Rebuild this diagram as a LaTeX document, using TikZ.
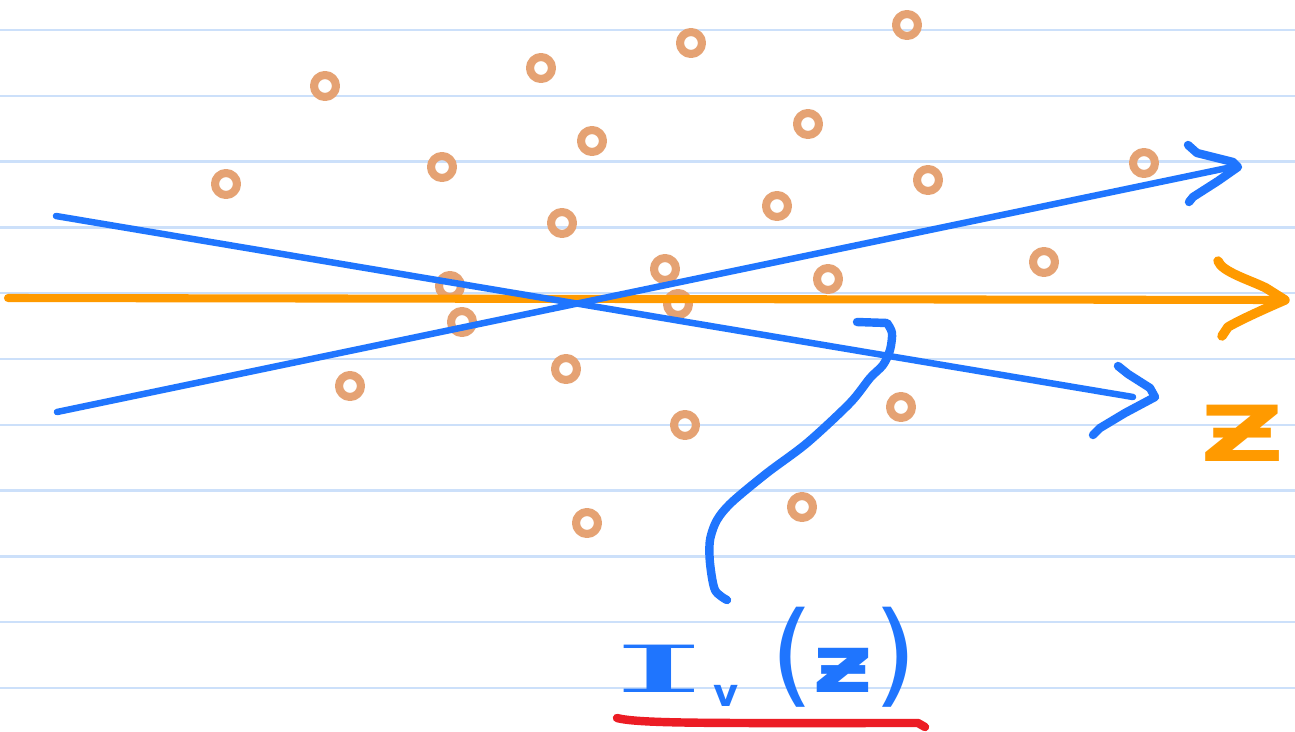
\documentclass[tikz,border=0pt]{standalone}
\usepackage{fontspec}
\setmainfont{DejaVu Sans}
\newfontfamily\serifb{DejaVu Serif}
\usepackage{graphicx}
\definecolor{ruleblue}{HTML}{CCE0FA}
\definecolor{penblue}{HTML}{1F75FE}
\definecolor{axisorange}{HTML}{FF9A00}
\definecolor{ringorange}{HTML}{E5A273}
\definecolor{underred}{HTML}{EC1C24}
\begin{document}
\begin{tikzpicture}[x=0.02cm,y=-0.02cm, line cap=round, line join=round,
  ruled/.style={ruleblue, line width=1.4pt},
  ring/.style={ringorange, line width=4.6pt},
  ray/.style={penblue, line width=3.7pt},
  penstroke/.style={penblue, line width=4.8pt},
  axisline/.style={axisorange, line width=4.6pt},
  axisstroke/.style={axisorange, line width=5.4pt},
  redline/.style={underred, line width=4.8pt},
  axislabel/.style={text=axisorange, font=\bfseries\fontsize{44}{44}\selectfont, inner sep=0pt},
  penlabel/.style={text=penblue, font=\bfseries, inner sep=0pt},
]
\useasboundingbox (0,0) rectangle (1295,731);
\fill[white] (0,0) rectangle (1295,731);
% ruled paper
\foreach \k in {0,...,10} \draw[ruled] (0,{30+65.8*\k}) -- (1295,{30+65.8*\k});
% particles
\foreach \x/\y in {325/86, 541/68, 691/43, 907/25, 226/184, 442/167, 592/141, 808/124,
  1144/163, 562/223, 777/206, 928/180, 450/286, 665/269, 828/279, 1044/262,
  462/322, 678/304, 350/386, 566/369, 901/407, 685/425, 802/507, 587/523}
  \draw[ring] (\x,\y) circle[radius=0.22cm];
% z axis
\coordinate (a0) at (8,298);
\coordinate (a1) at (1285,300);
\draw[axisline] (a0) -- (a1);
\draw[axisstroke] (1218,261) .. controls (1222,272) and (1250,280) .. (1266,288)
  -- (a1) .. controls (1262,310) and (1240,320) .. (1228,327) -- (1222,336);
\node[axislabel] (zlab) at (1243,433) {\scalebox{1.5}[1]{Ƶ}};
% rising ray
\coordinate (r0) at (57,412);
\coordinate (r1) at (1232,167);
\draw[ray] (r0) -- (r1);
\draw[penstroke] (1188,145) -- (1197,153) -- (1233,162) -- (1238,167) -- (1218,181)
  -- (1193,197) -- (1189,202);
% falling ray
\coordinate (f0) at (56,216);
\coordinate (f1) at (1133,397);
\draw[ray] (f0) -- (f1);
\draw[penstroke] (1118,366) -- (1128,374) -- (1150,388) -- (1155,397) -- (1125,413)
  -- (1100,428) -- (1093,435);
% label
\node[penlabel, anchor=base west] (lbl) at (610,692)
  {{\serifb\mdseries\fontsize{37}{37}\selectfont\scalebox{3.8}[1]{I}}\hspace{3pt}%
   \raisebox{-8.5pt}{\fontsize{22}{22}\selectfont v}\hspace{18pt}%
   {\mdseries\fontsize{64}{64}\selectfont(}\hspace{-1pt}%
   {\fontsize{46}{46}\selectfont\scalebox{1.3}[1]{ƶ}}\hspace{0pt}%
   {\mdseries\fontsize{64}{64}\selectfont)}};
\coordinate (h0) at (727,600);
\coordinate (h1) at (857,322);
\draw[penstroke] plot[smooth, tension=0.5] coordinates {(h0) (715,590) (710,563) (710,540)
  (717,520) (732,502) (767,473) (807,443) (850,403) (870,378) (883,365) (890,350)
  (892,333) (887,323)} -- (h1);
\draw[redline] (617,718) .. controls (640,724) and (720,723) .. (918,723) -- (925,727);
\end{tikzpicture}
\end{document}
